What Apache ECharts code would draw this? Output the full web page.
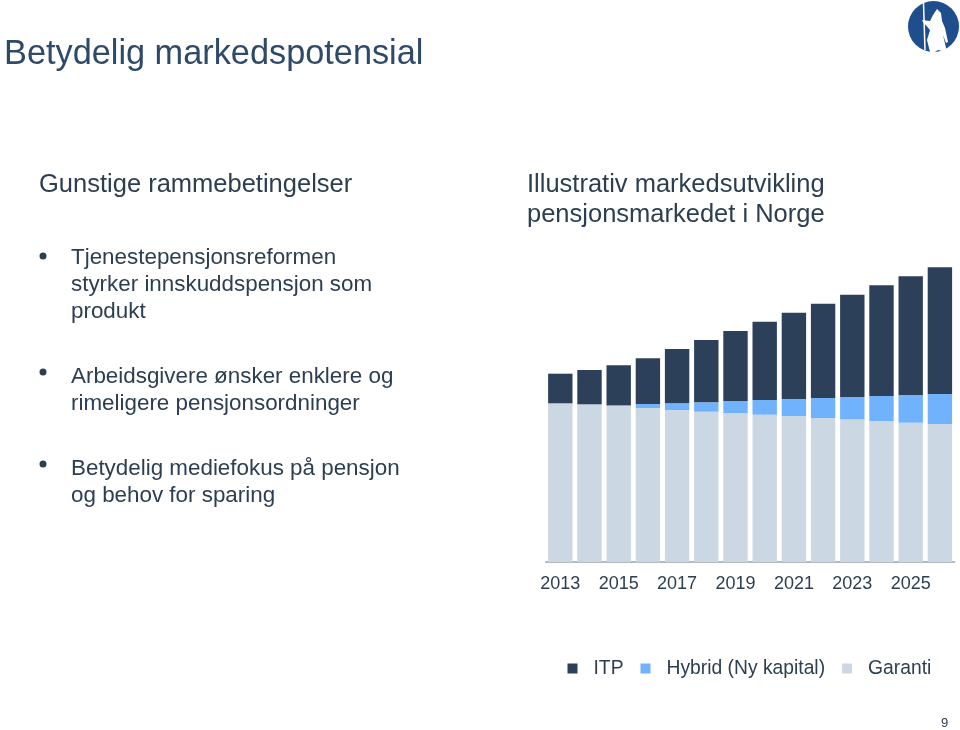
<!DOCTYPE html>
<html>
<head>
<meta charset="utf-8">
<style>
  html, body { margin: 0; padding: 0; background: #fff; }
  #chart { width: 960px; height: 730px; }
</style>
<script src="https://cdn.jsdelivr.net/npm/echarts@6/dist/echarts.min.js"></script>
</head>
<body>
<div id="chart"></div>
<script>
const years = ["2013", "2014", "2015", "2016", "2017", "2018", "2019", "2020", "2021", "2022", "2023", "2024", "2025", "2026"];
const garanti = [158.7, 157.7, 156, 154, 152, 150.3, 149, 147.3, 146, 144, 142.7, 141, 139.3, 138];
const hybrid = [0, 0, 0.7, 4, 6.7, 9.4, 12, 14.7, 17, 20, 22.3, 25, 27.7, 30];
const itp = [29.6, 34.3, 40, 45.7, 54.3, 62.3, 70, 78.3, 86.3, 94.3, 102.3, 110.7, 118.7, 126.7];

const font = "'Liberation Sans', Arial, sans-serif";
const ink = "#2d3e50";

const text = (x, y, str, size, color) => ({
  type: "text",
  x,
  y,
  style: { text: str, font: `${size}px ${font}`, fill: color || ink, textVerticalAlign: "middle" },
});
const bullet = (y) => ({
  type: "circle",
  shape: { cx: 43, cy: y, r: 3.5 },
  style: { fill: ink },
});

// crude version of the logo in the top right corner
const figure = [[933, 15], [937, 9], [941, 13], [942, 21], [945, 28], [948, 42], [946, 43], [943, 35], [947, 52], [938, 50], [935, 52], [930, 52], [927, 40], [930, 30], [923, 22], [922, 20], [930, 21]];

const chart = echarts.init(document.getElementById("chart"));
chart.setOption({
  animation: false,
  textStyle: { fontFamily: font, color: ink },
  grid: { left: 545.7, width: 408.8, top: 262, height: 300 },
  legend: {
    data: ["ITP", "Hybrid (Ny kapital)", "Garanti"],
    left: 562.5,
    top: 654,
    icon: "rect",
    itemWidth: 10,
    itemHeight: 10,
    itemGap: 17,
    textStyle: { fontSize: 19.3, color: ink, padding: [0, 0, 0, 11] },
  },
  xAxis: {
    type: "category",
    data: years,
    axisTick: { show: false },
    axisLine: { lineStyle: { color: "#9aa5ad", width: 1.5 } },
    axisLabel: { interval: 1, fontSize: 18, color: ink, margin: 13 },
  },
  yAxis: { type: "value", min: 0, max: 300, show: false },
  series: [
    { name: "Garanti", type: "bar", stack: "total", data: garanti, barWidth: 24.4, itemStyle: { color: "#cbd8e3" } },
    { name: "Hybrid (Ny kapital)", type: "bar", stack: "total", data: hybrid, itemStyle: { color: "#70b2fb" } },
    { name: "ITP", type: "bar", stack: "total", data: itp, itemStyle: { color: "#2c4159" } },
  ],
  graphic: [
    text(4, 55, "Betydelig markedspotensial", 34.3, "#2f4a68"),
    text(39, 185, "Gunstige rammebetingelser", 25.5),
    bullet(256),
    text(71, 258, "Tjenestepensjonsreformen", 22.4),
    text(71, 285, "styrker innskuddspensjon som", 22.4),
    text(71, 312, "produkt", 22.4),
    bullet(372),
    text(71, 377, "Arbeidsgivere ønsker enklere og", 22.4),
    text(71, 404, "rimeligere pensjonsordninger", 22.4),
    bullet(464),
    text(71, 469, "Betydelig mediefokus på pensjon", 22.4),
    text(71, 496, "og behov for sparing", 22.4),
    text(527, 185, "Illustrativ markedsutvikling", 25.5),
    text(527, 215, "pensjonsmarkedet i Norge", 25.5),
    text(941, 723, "9", 13),
    { type: "circle", shape: { cx: 933.5, cy: 26.5, r: 25.5 }, style: { fill: "#1f4e8c" } },
    { type: "polygon", shape: { points: figure }, style: { fill: "#fff" } },
    { type: "line", shape: { x1: 923.5, y1: 3, x2: 925, y2: 50 }, style: { stroke: "#fff", lineWidth: 1.5 } },
  ],
});
</script>
</body>
</html>
